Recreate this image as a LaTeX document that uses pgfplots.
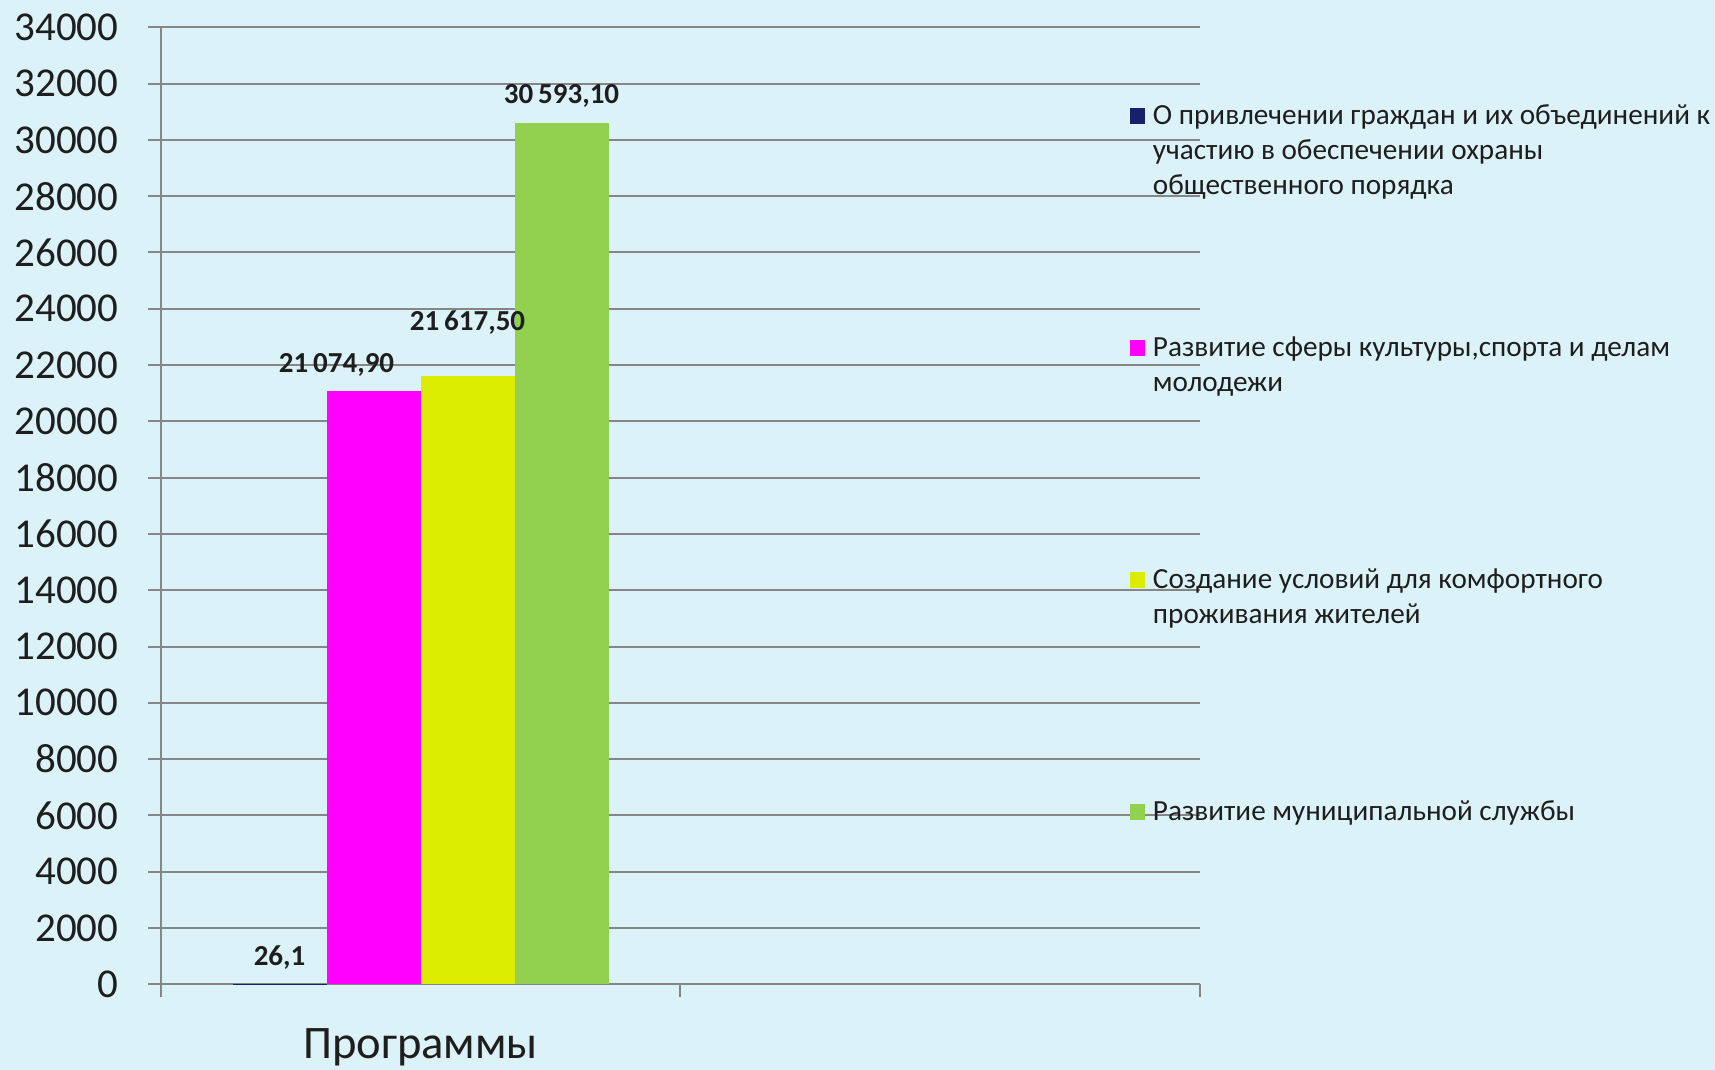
\documentclass[border=0pt]{standalone}
\usepackage{fontspec}
\setmainfont{Carlito}
\usepackage{pgfplots}
\pgfplotsset{compat=1.18}
\definecolor{bg}{RGB}{219,243,248}
\definecolor{gridc}{RGB}{134,134,134}
\definecolor{navyc}{RGB}{23,32,107}
\definecolor{magc}{RGB}{255,0,255}
\definecolor{yelc}{RGB}{220,236,0}
\definecolor{grnc}{RGB}{146,208,80}
\definecolor{txt}{RGB}{30,30,30}
\newcommand{\lgd}[1]{\parbox[t]{300pt}{\fontsize{14.6}{17.5}\selectfont\raggedright\rule{0pt}{12pt}#1}}
\pgfplotsset{ybar legend/.style={legend image code/.code={\fill[##1,draw=none] (0pt,0pt) rectangle (7.5pt,8pt);}}}
\begin{document}
\begin{tikzpicture}
\path[fill=bg, use as bounding box] (-80.4pt,-42.85pt) rectangle (777.1pt,492.15pt);
\begin{axis}[
 at={(0,0)}, anchor=south west,
 width=519.5pt, height=478.5pt, scale only axis,
 ybar, bar width=47pt,
 xmin=-0.5, xmax=1.5, ymin=0, ymax=34000,
 xtick={-0.5,0.5,1.5}, xticklabels={},
 extra x ticks={0}, extra x tick labels={Программы},
 extra x tick style={major tick length=0pt, xticklabel style={font=\fontsize{23.3}{27}\selectfont, text=txt, anchor=base, yshift=-37pt}},
 ytick={0,2000,...,34000},
 scaled y ticks=false,
 ymajorgrids, grid style={gridc, line width=1pt},
 axis x line*=bottom, axis y line*=left,
 axis line style={gridc, line width=1pt, -},
 tick align=outside, major tick length=6.5pt,
 tick style={gridc, line width=1pt},
 yticklabel style={font=\fontsize{20.5}{24}\selectfont, text=txt, anchor=east, inner sep=0pt, xshift=-14.5pt},
 /pgf/number format/assume math mode=true,
 /pgf/number format/1000 sep={},
 nodes near coords style={font=\fontsize{14.5}{17}\selectfont\bfseries, text=txt},
 legend style={at={(0.9328,0.9238)}, anchor=north west, draw=none, fill=none, inner sep=0pt, outer sep=0pt, row sep=102.5pt, column sep=4pt, cells={anchor=base west}, nodes={inner sep=0pt, text=txt}},
 clip=false,
]
\addplot[fill=navyc, draw=none, bar shift=-70.5pt, nodes near coords={26,1}, every node near coord/.append style={anchor=base, yshift=9.2pt}] coordinates {(0,26.1)};
\addlegendentry{\lgd{О привлечении граждан и их объединений к\\участию в обеспечении охраны\\общественного порядка}}
\addplot[fill=magc, draw=none, bar shift=-23.5pt, nodes near coords={21\,074,90}, every node near coord/.append style={anchor=base, yshift=9.5pt, xshift=-18.5pt}] coordinates {(0,21074.9)};
\addlegendentry{\lgd{Развитие сферы культуры,спорта и делам\\молодежи}}
\addplot[fill=yelc, draw=none, bar shift=23.5pt, nodes near coords={21\,617,50}, every node near coord/.append style={anchor=base, yshift=22.9pt}] coordinates {(0,21617.5)};
\addlegendentry{\lgd{Создание условий для комфортного\\проживания жителей}}
\addplot[fill=grnc, draw=none, bar shift=70.5pt, nodes near coords={30\,593,10}, every node near coord/.append style={anchor=base, yshift=9.6pt}] coordinates {(0,30593.1)};
\addlegendentry{\lgd{Развитие муниципальной службы}}
\end{axis}
\end{tikzpicture}
\end{document}
